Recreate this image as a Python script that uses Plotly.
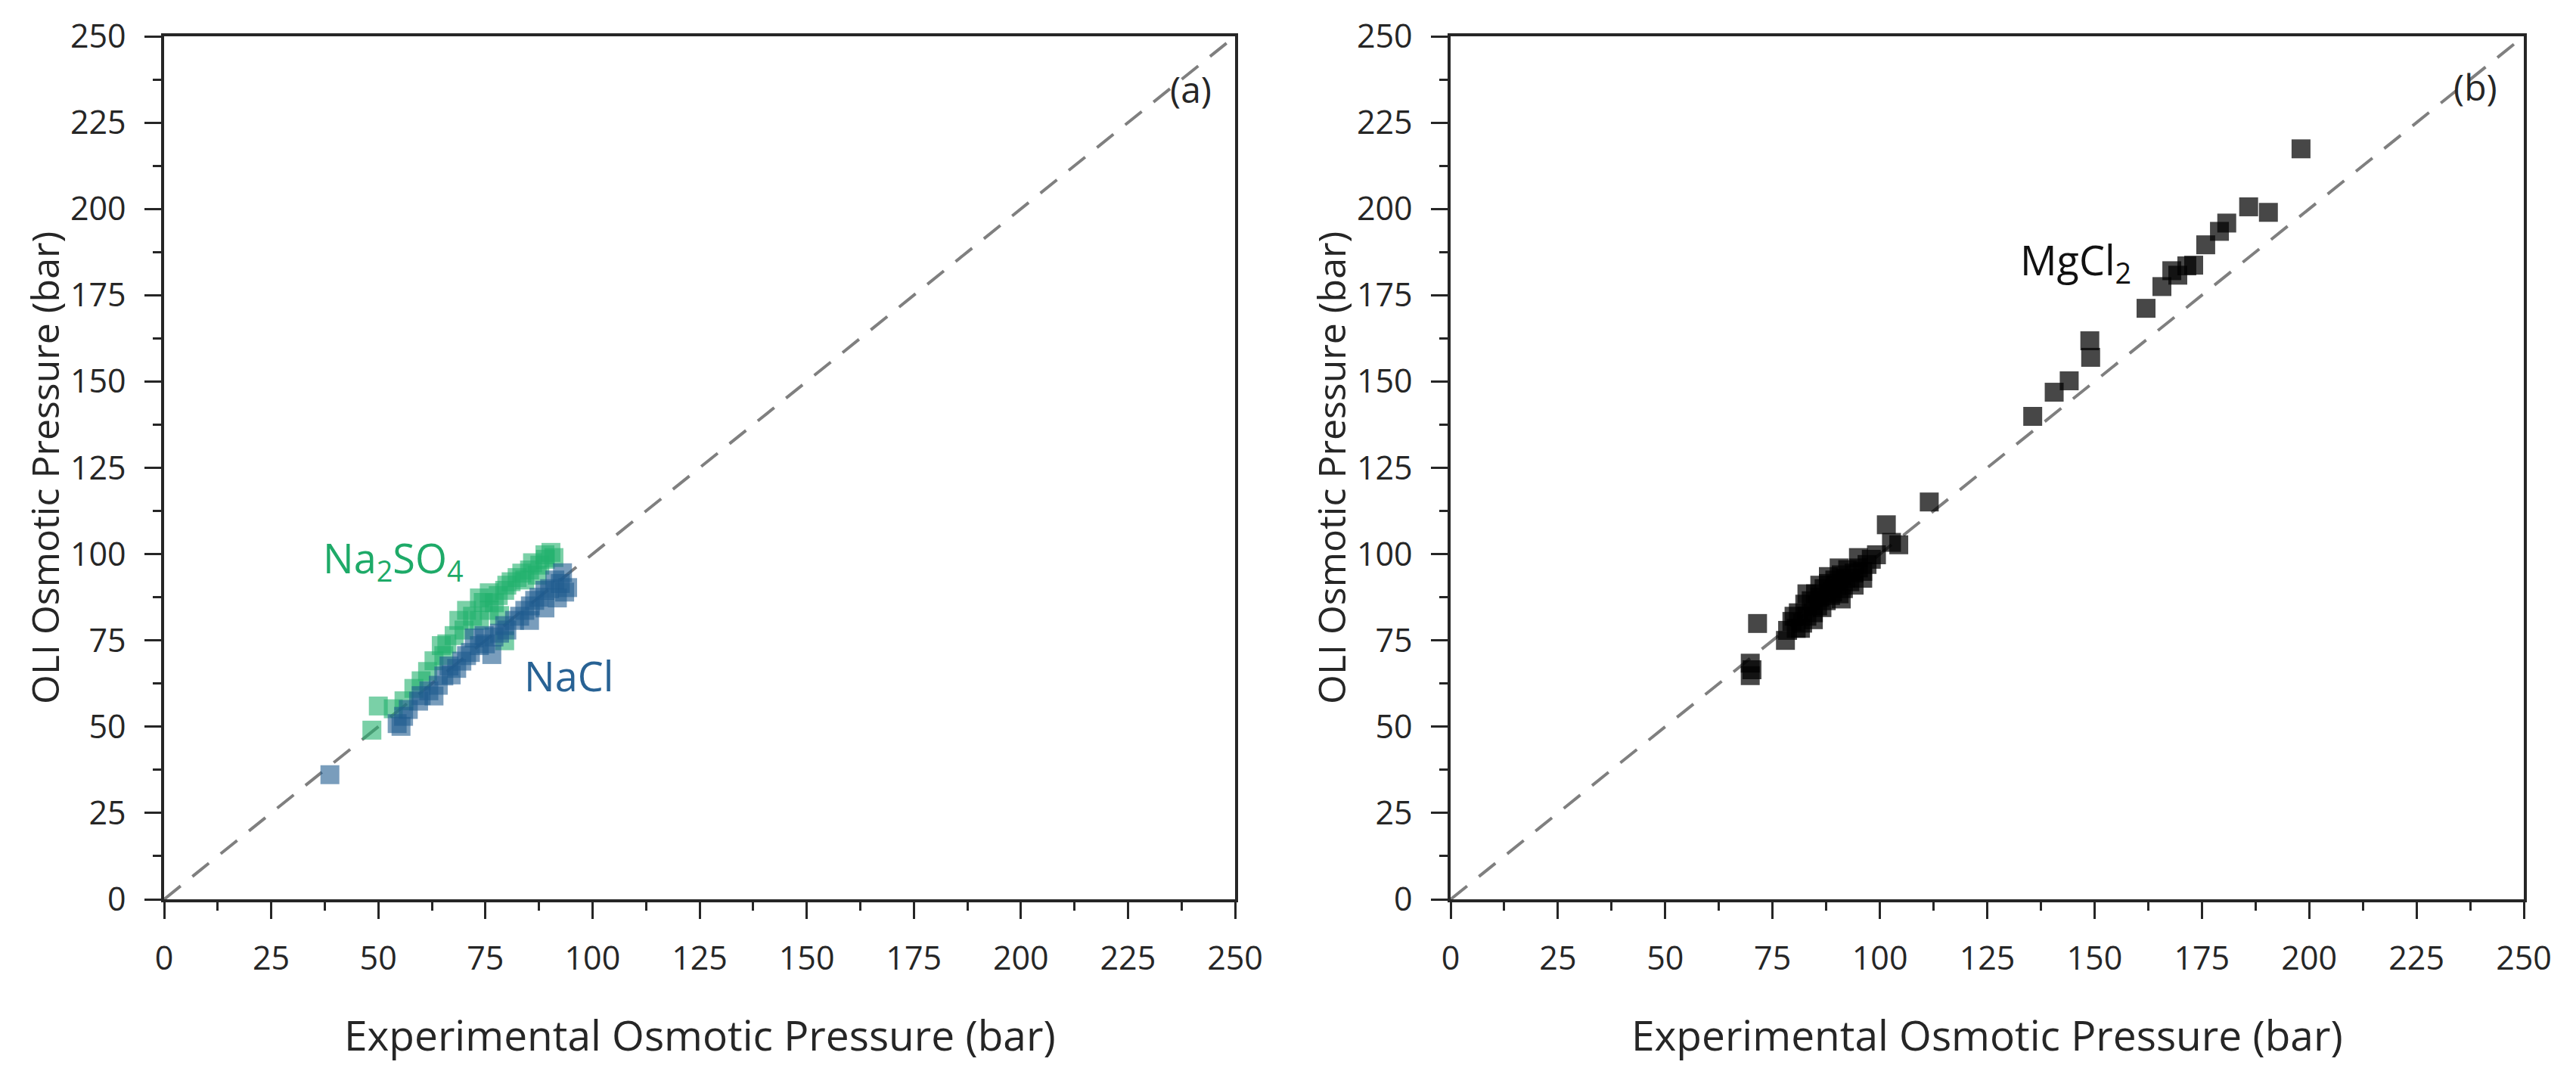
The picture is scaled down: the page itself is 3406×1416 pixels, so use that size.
import plotly.graph_objects as go

# panel (a) - Na2SO4 / NaCl, experimental vs OLI osmotic pressure (bar)
na2so4_exp = [48.5, 50.0, 53.5, 56.0, 58.3, 60.0, 61.5, 63.0, 64.7, 65.3, 66.0, 67.7, 68.8, 70.0,
              70.6, 72.0, 73.6, 73.6, 74.5, 75.9, 75.9, 77.1, 78.0, 78.3, 79.5, 79.5, 80.0, 81.0,
              82.4, 83.5, 84.2, 85.3, 86.0, 87.1, 87.7, 88.9, 89.0, 90.3, 91.0]
na2so4_oli = [49.0, 56.0, 55.2, 57.5, 61.1, 63.3, 66.0, 69.1, 73.5, 70.6, 74.0, 76.4, 80.8, 78.0,
              83.7, 82.0, 87.3, 80.8, 86.0, 88.8, 83.7, 85.9, 88.0, 82.2, 89.5, 74.9, 91.0, 92.0,
              93.2, 94.5, 92.5, 95.4, 97.5, 93.9, 96.8, 99.8, 98.5, 100.5, 99.0]

nacl_exp = [38.7, 54.4, 55.9, 55.3, 57.0, 59.4, 60.0, 61.8, 63.0, 64.0, 65.3, 66.5, 67.0, 68.3,
            69.5, 70.6, 71.5, 72.4, 73.6, 74.7, 75.0, 76.5, 77.0, 78.3, 79.5, 80.0, 81.8, 83.0,
            84.2, 85.3, 85.5, 86.5, 87.5, 88.9, 88.9, 90.0, 91.2, 91.8, 92.5, 93.0, 93.5, 94.2]
nacl_oli = [36.1, 50.9, 53.0, 50.1, 55.0, 57.4, 59.0, 60.4, 58.9, 62.0, 64.7, 67.6, 65.0, 66.9,
            69.0, 70.6, 71.5, 75.7, 73.5, 76.4, 74.0, 70.9, 76.0, 77.1, 79.3, 78.0, 80.8, 82.0,
            83.7, 80.8, 85.0, 86.6, 87.5, 89.5, 84.4, 90.0, 92.5, 87.3, 91.5, 94.6, 89.0, 90.3]

# panel (b) - MgCl2
mgcl2_exp = [69.8, 69.8, 70.2, 71.5, 78.0, 78.5, 79.5, 80.0, 80.5, 81.0, 81.5, 82.0, 82.5, 83.0,
             83.0, 84.0, 84.5, 84.5, 85.0, 85.5, 86.0, 86.0, 86.5, 87.0, 87.5, 88.0, 88.0, 88.5,
             89.0, 89.5, 90.0, 90.5, 90.5, 91.0, 91.0, 91.5, 92.0, 92.5, 93.0, 94.0, 94.0, 95.0,
             95.0, 96.0, 96.0, 97.0, 98.0, 99.2, 101.5, 102.7, 104.4, 111.5,
             135.6, 140.6, 144.1, 148.9, 149.1, 162.0, 165.7, 168.0, 169.4, 171.5, 173.1, 175.9,
             179.1, 180.8, 185.9, 190.5, 198.1]
mgcl2_oli = [68.4, 64.8, 66.5, 79.9, 75.0, 77.9, 80.5, 82.0, 78.5, 83.0, 78.5, 80.0, 85.5, 82.0,
             88.5, 86.5, 83.0, 81.0, 88.5, 85.0, 87.5, 91.0, 84.5, 90.0, 86.5, 91.5, 93.5, 88.0,
             89.0, 92.5, 91.0, 88.5, 96.0, 94.0, 87.0, 90.0, 93.0, 95.5, 92.0, 94.5, 91.0, 96.0,
             99.0, 95.0, 93.0, 97.0, 98.5, 99.8, 108.5, 103.4, 102.7, 115.1,
             139.9, 146.9, 150.2, 161.8, 157.0, 171.2, 177.5, 182.1, 180.8, 183.5, 183.7, 189.6,
             193.5, 195.9, 200.6, 199.0, 217.4]

parity = [0, 250]
tick_vals = [0, 25, 50, 75, 100, 125, 150, 175, 200, 225, 250]

# page body has an 8px margin, so the figure is 16px smaller than the window
W, H = 3390, 1400
FONT = 'Open Sans'
INK = '#262626'

fig = go.Figure()

for xa, ya in [('x', 'y'), ('x2', 'y2')]:
    fig.add_trace(go.Scatter(x=parity, y=parity, mode='lines', xaxis=xa, yaxis=ya,
                             line=dict(color='#7f7f7f', width=4, dash='28px,20px'),
                             showlegend=False, hoverinfo='skip'))

fig.add_trace(go.Scatter(x=na2so4_exp, y=na2so4_oli, mode='markers', name='Na2SO4',
                         marker=dict(symbol='square', size=25, color='rgb(34,176,108)',
                                     opacity=0.6, line=dict(width=0)),
                         showlegend=False))
fig.add_trace(go.Scatter(x=nacl_exp, y=nacl_oli, mode='markers', name='NaCl',
                         marker=dict(symbol='square', size=25, color='rgb(32,92,144)',
                                     opacity=0.6, line=dict(width=0)),
                         showlegend=False))
fig.add_trace(go.Scatter(x=mgcl2_exp, y=mgcl2_oli, mode='markers', name='MgCl2',
                         xaxis='x2', yaxis='y2',
                         marker=dict(symbol='square', size=25, color='rgb(0,0,0)',
                                     opacity=0.72, line=dict(width=0)),
                         showlegend=False))

axis_style = dict(
    range=[0, 250], tickvals=tick_vals, showline=True, linewidth=3.5, linecolor=INK,
    mirror=True, ticks='outside', ticklen=22, tickwidth=3, tickcolor=INK,
    minor=dict(dtick=12.5, tick0=0, ticks='outside', ticklen=11, tickwidth=3, tickcolor=INK),
    showgrid=False, zeroline=False, tickfont=dict(size=43, color=INK, family=FONT),
    ticklabelstandoff=16, fixedrange=True, automargin=False,
)

y_dom = [1 - 1181 / H, 1 - 40 / H]
fig.update_layout(
    width=W, height=H,
    margin=dict(l=0, r=0, t=0, b=0, pad=0, autoexpand=False),
    paper_bgcolor='white', plot_bgcolor='white',
    font=dict(family=FONT, color=INK),
    xaxis=dict(axis_style, domain=[209 / W, 1625 / W], anchor='y'),
    yaxis=dict(axis_style, domain=y_dom, anchor='x'),
    xaxis2=dict(axis_style, domain=[1910 / W, 3329 / W], anchor='y2'),
    yaxis2=dict(axis_style, domain=y_dom, anchor='x2'),
)

ann = []
for x0, x1 in [(209, 1625), (1910, 3329)]:
    ann.append(dict(xref='paper', yref='paper', x=(x0 + x1) / 2 / W, y=1 - 1359 / H,
                    text='Experimental Osmotic Pressure (bar)', showarrow=False,
                    font=dict(size=55, color=INK), xanchor='center', yanchor='middle'))
    ann.append(dict(xref='paper', yref='paper', x=(x0 - 158) / W, y=1 - 611 / H,
                    text='OLI Osmotic Pressure (bar)', showarrow=False, textangle=-90,
                    font=dict(size=50, color=INK), xanchor='center', yanchor='middle'))

ann += [
    dict(xref='x', yref='y', x=239.6, y=234.7, text='(a)', showarrow=False,
         font=dict(size=48, color=INK)),
    dict(xref='x2', yref='y2', x=238.7, y=235.5, text='(b)', showarrow=False,
         font=dict(size=48, color=INK)),
    dict(xref='x', yref='y', x=53.5, y=98.3, text='Na<sub>2</sub>SO<sub>4</sub>',
         showarrow=False, font=dict(size=54, color='rgb(30,170,104)')),
    dict(xref='x', yref='y', x=94.5, y=64.8, text='NaCl', showarrow=False,
         font=dict(size=54, color='rgb(40,98,148)')),
    dict(xref='x2', yref='y2', x=145.6, y=184.8, text='MgCl<sub>2</sub>', showarrow=False,
         font=dict(size=54, color='#111111')),
]
fig.update_layout(annotations=ann)

fig.write_html("out.html")
